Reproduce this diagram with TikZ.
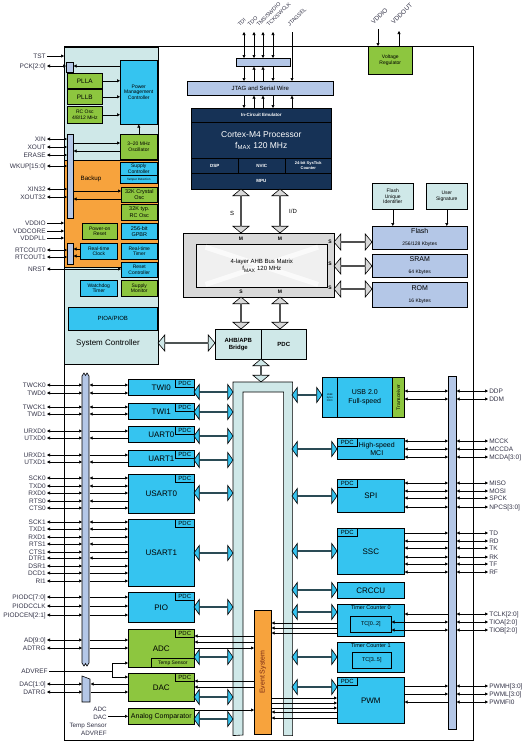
\documentclass[tikz,border=0pt]{standalone}
\usepackage{fontspec}
\setmainfont{Liberation Sans}
\usepackage{tikz}
\usetikzlibrary{arrows.meta,shapes.arrows}

\definecolor{cyanblk}{RGB}{53,196,240}
\definecolor{grnblk}{RGB}{141,198,63}
\definecolor{orgblk}{RGB}{247,163,61}
\definecolor{ltcyan}{RGB}{207,232,232}
\definecolor{ltblue}{RGB}{180,199,231}
\definecolor{navyblk}{RGB}{22,50,86}
\definecolor{mtxgray}{RGB}{217,217,217}
\definecolor{pintxt}{RGB}{50,50,70}
\definecolor{evtxt}{RGB}{120,40,20}

\tikzset{
  blk/.style 2 args={anchor=north west,minimum width=#1pt,minimum height=#2pt,inner sep=0pt,align=center},
  cy/.style={draw,fill=cyanblk}, gr/.style={draw,fill=grnblk},
  lb/.style={draw,fill=ltblue}, lc/.style={draw,fill=ltcyan},
  nv/.style={draw,fill=navyblk,text=white},
  f25/.style={font=\fontsize{2.5}{3}\selectfont},
  f3/.style={font=\fontsize{3}{3.5}\selectfont},
  f4b/.style={font=\bfseries\fontsize{4}{4.8}\selectfont},
  f45b/.style={font=\bfseries\fontsize{4.5}{5}\selectfont},
  f5/.style={font=\fontsize{5}{5.8}\selectfont},
  f5b/.style={font=\bfseries\fontsize{5}{6}\selectfont},
  f55/.style={font=\fontsize{5.5}{6.4}\selectfont},
  f6/.style={font=\fontsize{6}{7}\selectfont},
  f6b/.style={font=\bfseries\fontsize{6}{7.5}\selectfont},
  f7/.style={font=\fontsize{7}{8.5}\selectfont},
  f8/.style={font=\fontsize{8}{9.5}\selectfont},
  f85/.style={font=\fontsize{8.5}{11}\selectfont},
  pin/.style={font=\fontsize{6.5}{7}\selectfont,text=pintxt,inner sep=1pt,text height=4.7pt,text depth=0.3pt},
  toppin/.style={font=\fontsize{5.4}{6}\selectfont,text=pintxt,inner sep=0.5pt,rotate=45,anchor=south west},
  pdcbox/.style={draw,minimum width=19pt,minimum height=8pt,inner sep=0pt,font=\fontsize{6}{7}\selectfont},
  garrow/.style={double arrow,draw,fill=mtxgray,inner sep=0pt,minimum width=16pt,
    double arrow head extend=3.5pt,double arrow tip angle=100},
  carrow/.style={double arrow,draw,fill=cyanblk,inner sep=0pt,minimum width=15pt,
    double arrow head extend=3.5pt,double arrow tip angle=110},
  vert/.style={shape border rotate=90}
}

\begin{document}
\begin{tikzpicture}[x=1pt,y=-1pt,line width=0.6pt,>={Triangle[length=3pt,width=3pt]}]
\useasboundingbox (0,0) rectangle (531,755);

% chip and system controller
\node[draw,blk={409}{694}] (chip) at (64,46) {};
\node[lc,blk={94}{317}] (sysc) at (64,47) {};
\node[draw,fill=orgblk,blk={94}{107}] (bkp) at (64,160) {};
\node[font=\fontsize{6.2}{7}\selectfont] (bkplbl) at (91,179) {Backup};
\node[f8] (sysclbl) at (108,343) {System Controller};

\node[lb,blk={7}{10}] (pckbar) at (66,62) {};
\node[gr,blk={35}{15},font=\fontsize{6.4}{7}\selectfont] (plla) at (67,73) {PLLA};
\node[gr,blk={35}{15},font=\fontsize{6.4}{7}\selectfont] (pllb) at (67,89) {PLLB};
\node[gr,blk={35}{17},f5] (rcosc) at (67,106) {RC Osc\\4/8/12 MHz};
\node[cy,blk={37}{64},f5] (pmc) at (120,60) {Power\\Management\\Controller};
\node[gr,blk={37}{25},f5] (osc) at (120,134) {3--20 MHz\\Oscillator};
\node[lb,blk={6}{84}] (xbar) at (67,134) {};
\node[cy,blk={37}{13},f5] (supc) at (120,162) {Supply\\Controller};
\node[cy,blk={37}{8},f3] (tamper) at (120,175) {Tamper Detection};
\node[gr,blk={36}{15},f55] (xtal32) at (121,187) {32K Crystal\\Osc};
\node[gr,blk={36}{16},f55] (rc32) at (121,204) {32K typ.\\RC Osc};
\node[gr,blk={35}{16},f5] (por) at (82,223) {Power-on\\Reset};
\node[cy,blk={36}{16},f55] (gpbr) at (121,223) {256-bit\\GPBR};
\node[cy,blk={37}{16},f5] (rtc) at (80,243) {Real-time\\Clock};
\node[cy,blk={36}{16},f5] (rtt) at (121,243) {Real-time\\Timer};
\node[lb,blk={6}{21}] (rtcbar) at (67,243) {};
\node[cy,blk={36}{15},f5] (rstc) at (121,262) {Reset\\Controller};
\node[cy,blk={37}{16},f5] (wdt) at (80,280) {Watchdog\\Timer};
\node[gr,blk={36}{16},f5] (supm) at (121,280) {Supply\\Monitor};
\node[cy,blk={89}{23},f6] (pioab) at (68,307) {PIOA/PIOB};

\foreach \y/\nm/\lbl/\tip/\dst in {56/tst/TST/->/sysc,66/pck/PCK[2:0]/<->/pckbar,
  139/xin/XIN/<->/xbar,147/xout/XOUT/<->/xbar,155/erase/ERASE/<->/xbar,166/wkup/WKUP[15:0]/<->/xbar,
  189/xinr/XIN32/<->/xbar,197/xoutr/XOUT32/<->/xbar,223/vddiol/VDDIO/->/sysc,
  231/vddcore/VDDCORE/->/sysc,238/vddpll/VDDPLL/->/sysc,250/rtcoa/RTCOUT0/<->/rtcbar,
  257/rtcob/RTCOUT1/<->/rtcbar,269/nrst/NRST/<->/rstc}{
  \node[pin,anchor=east] (\nm) at (47,\y) {\lbl};
  \draw[\tip] (\nm.east) -- (\dst.west |- \nm.east);
}
\draw[->] (pmc.west |- pck) -- (pckbar.east |- pck);
\draw[->] (plla) -- (pmc.west |- plla);
\draw[->] (pllb) -- (pmc.west |- pllb);
\draw[->] (rcosc) -- (pmc.west |- rcosc);
\draw[->] (osc) -- (pmc);
\draw[->] (xbar.east |- 0,143) -- (osc.west |- 0,143);
\draw[->] (osc.west |- 0,151) -- (xbar.east |- 0,151);
\draw[->] (xbar.east |- 0,191) -- (xtal32.west |- 0,191);
\draw[->] (xtal32.west |- 0,199) -- (xbar.east |- 0,199);
\draw[->] (rtc.west |- 0,249) -- (rtcbar.east |- 0,249);
\draw[->] (rtc.west |- 0,256) -- (rtcbar.east |- 0,256);

% debug port and processor
\node[lb,blk={54}{8}] (jbar) at (236,58) {};
\node[lb,blk={146}{14},f6] (jtag) at (187,81) {JTAG and Serial Wire};
\node[nv,blk={140}{14},f45b] (ice) at (191,108) {In-Circuit Emulator};
\node[nv,blk={140}{36},f85] (core) at (191,122) {Cortex-M4 Processor\\f\textsubscript{MAX} 120 MHz};
\node[nv,blk={47}{15},f45b] (dsp) at (191,158) {DSP};
\node[nv,blk={47}{15},f45b] (nvic) at (238,158) {NVIC};
\node[nv,blk={46}{15},f4b] (systick) at (285,158) {24-bit SysTick\\Counter};
\node[nv,blk={140}{16},f45b] (mpu) at (191,173) {MPU};

\coordinate (tdiT) at (244,32);
\coordinate (tdoT) at (254,32);
\coordinate (tmsT) at (263,32);
\coordinate (tckT) at (273,32);
\coordinate (jselT) at (292,32);
\node[toppin] (tdi) at (240,28) {TDI};
\node[toppin] (tdo) at (250,28) {TDO};
\node[toppin] (tms) at (259,28) {TMS/SWDIO};
\node[toppin] (tck) at (269,28) {TCK/SWCLK};
\node[toppin] (jsel) at (290,28) {JTAGSEL};
\foreach \c in {tdiT,tdoT,tmsT,tckT}
  \draw[<->] (\c) -- (jbar.north -| \c);
\draw[->] (jselT) -- (jtag.north -| jselT);
\draw[->] (jbar.south -| tdiT) -- (jtag.north -| tdiT);
\draw[<-] (jbar.south -| tdoT) -- (jtag.north -| tdoT);
\draw[<-] (jbar.south -| tmsT) -- (jtag.north -| tmsT);
\draw[->] (jbar.south -| tckT) -- (jtag.north -| tckT);
\draw[->] (jtag.south -| tdiT) -- (ice.north -| tdiT);
\draw[<-] (jtag.south -| tdoT) -- (ice.north -| tdoT);
\draw[<-] (jtag.south -| tmsT) -- (ice.north -| tmsT);
\draw[->] (jtag.south -| tckT) -- (ice.north -| tckT);
\draw[<-] (jtag.south -| jselT) -- (ice.north -| jselT);

% voltage regulator
\node[gr,blk={44}{28},f5] (vreg) at (368,46) {Voltage\\Regulator};
\coordinate (vddioT) at (378,29);
\coordinate (vddoutT) at (399,31);
\node[toppin,font=\fontsize{6.3}{7}\selectfont] (vddio) at (374,26) {VDDIO};
\node[toppin,font=\fontsize{6.3}{7}\selectfont] (vddout) at (394,26) {VDDOUT};
\draw[->] (vddioT) -- (vreg.north -| vddioT);
\draw[->] (vreg.north -| vddoutT) -- (vddoutT);

% bus matrix and memories
\node[garrow,vert,minimum height=44pt] (sarr) at (241,211) {};
\node[garrow,vert,minimum height=44pt] (idarr) at (280,211) {};
\node[f6] (slbl) at (232,213) {S};
\node[f6] (idlbl) at (293,211) {I/D};
\node[draw,fill=mtxgray,blk={151}{64}] (mtx) at (183,233) {};
\node[draw,fill=gray!12,blk={131}{43}] (mtxin) at (196,244) {};
\draw[white,line width=5pt,opacity=.7,shorten <=10pt,shorten >=10pt] (mtxin.north west) -- (mtxin.south east);
\draw[white,line width=5pt,opacity=.7,shorten <=10pt,shorten >=10pt] (mtxin.south west) -- (mtxin.north east);
\node[f6,align=center] (mtxlbl) at (mtxin.center) {4-layer AHB Bus Matrix\\f\textsubscript{MAX} 120 MHz};
\node[f5b] (mm1) at (241,239) {M};
\node[f5b] (mm2) at (280,239) {M};
\node[f5b] (ms1) at (241,292) {S};
\node[f5b] (mm3) at (280,292) {M};
\node[f5b] (ms2) at (330,242) {S};
\node[f5b] (ms3) at (330,264) {S};
\node[f5b] (ms4) at (330,288) {S};

\node[lc,blk={41}{26},f5] (fuid) at (372,183) {Flash\\Unique\\Identifier};
\node[lc,blk={41}{26},f5] (usig) at (426,183) {User\\Signature};
\node[lb,blk={95}{23}] (flash) at (372,226) {\fontsize{7}{8}\selectfont Flash\\\fontsize{5}{6}\selectfont 256/128 Kbytes};
\node[lb,blk={95}{23}] (sram) at (372,254) {\fontsize{7}{8}\selectfont SRAM\\\fontsize{5}{6}\selectfont 64 Kbytes};
\node[lb,blk={95}{25}] (rom) at (372,282) {\fontsize{7}{8}\selectfont ROM\\\fontsize{5}{6}\selectfont 16 Kbytes};
\draw[->] (fuid) -- (flash.north -| fuid);
\draw[->] (usig) -- (flash.north -| usig);
\foreach \y/\nm in {242/fla,266/sra,289/roa}
  \node[garrow,minimum height=38pt] (\nm) at (353,\y) {};

\node[garrow,vert,minimum height=32pt] (sdown) at (241,313) {};
\node[garrow,vert,minimum height=32pt] (mdown) at (280,313) {};
\node[lc,blk={46}{30},f6b] (bridge) at (215,329) {AHB/APB\\Bridge};
\node[lc,blk={45}{30},f6b] (pdc) at (261,329) {PDC};
\node[garrow,fill=ltcyan,minimum height=57pt] (brarr) at (186.5,343) {};
\node[garrow,vert,fill=ltcyan,minimum height=23pt] (apbarr) at (261,370.5) {};

% peripheral bridge and event system
\node[blk={59}{353}] (apb) at (233,382) {};
\draw[fill=ltcyan] (apb.south west) -- (apb.north west) -- (apb.north east) -- (apb.south east)
  -- ++(-9,0) |- (243,392) -- ++(0,343) -- cycle;
\node[draw,fill=orgblk,blk={17}{124}] (evsys) at (254,610) {};
\node[rotate=90,f7,text=evtxt] (evlbl) at (evsys.center) {Event System};

% left peripherals
\node[cy,blk={66}{16},f8] (twi0) at (128,379) {TWI0};
\node[cy,blk={66}{16},f8] (twi1) at (128,403) {TWI1};
\node[cy,blk={66}{16},f8] (uart0) at (128,426) {UART0};
\node[cy,blk={66}{16},f8] (uart1) at (128,450) {UART1};
\node[cy,blk={66}{39},f8] (usart0) at (128,474) {USART0};
\node[cy,blk={66}{67},f8] (usart1) at (128,519) {USART1};
\node[cy,blk={66}{30},f8] (pio) at (128,592) {PIO};
\node[gr,blk={66}{38},f8] (adc) at (128,629) {ADC};
\node[gr,blk={43}{9},f5] (tsens) at (151,658) {Temp Sensor};
\node[gr,blk={66}{28},f8] (dac) at (128,673) {DAC};
\node[gr,blk={66}{16},f7] (acomp) at (128,708) {Analog Comparator};
\foreach \b in {twi0,twi1,uart0,uart1,usart0,usart1,pio}
  \node[pdcbox,fill=cyanblk,anchor=north east] (\b-pdc) at (\b.north east) {PDC};
\foreach \b in {adc,dac}
  \node[pdcbox,fill=grnblk,anchor=north east] (\b-pdc) at (\b.north east) {PDC};
\foreach \y/\nm in {392/a1,412/a2,436/a3,460/a4,493/a5,553/a6,607/a7,657/a8,697/a9,719/a10}
  \node[carrow,minimum height=39pt] (\nm) at (213.5,\y) {};

\node[blk={7}{290}] (lbus) at (82,373) {};
\draw[fill=ltblue] (82,663) -- (82,376) -- (84,373) -- (85.5,375.5) -- (87,373) -- (89,376)
  -- (89,663) -- (87,666) -- (85.5,663.5) -- (84,666) -- cycle;
\node[blk={8}{27}] (dbar) at (82,675) {};
\draw[fill=ltblue] (82,702) -- (82,676) -- (90,679) -- (90,702) -- cycle;

\foreach \y/\nm/\lbl/\tip/\dst in {385/twckz/TWCK0/<->/twi0,393/twdz/TWD0/<->/twi0,
  407/twcko/TWCK1/<->/twi1,414/twdo/TWD1/<->/twi1,431/urxdz/URXD0/->/uart0,438/utxdz/UTXD0/<-/uart0,
  455/urxdo/URXD1/->/uart1,462/utxdo/UTXD1/<-/uart1,478/sckz/SCK0/<->/usart0,486/txdz/TXD0/<->/usart0,
  493/rxdz/RXD0/->/usart0,501/rtsz/RTS0/<-/usart0,508/ctsz/CTS0/->/usart0,522/scko/SCK1/<->/usart1,
  529/txdo/TXD1/<->/usart1,537/rxdo/RXD1/->/usart1,544/rtso/RTS1/<-/usart1,552/ctso/CTS1/->/usart1,
  558/dtro/DTR1/<-/usart1,566/dsro/DSR1/->/usart1,573/dcdo/DCD1/->/usart1,581/rio/RI1/->/usart1,
  597/piodc/PIODC[7:0]/->/pio,606/piodcclk/PIODCCLK/->/pio,615/piodcen/PIODCEN[2:1]/->/pio,
  640/ad/AD[9:0]/->/adc,648/adtrg/ADTRG/->/adc}{
  \node[pin,anchor=east] (\nm) at (47,\y) {\lbl};
  \draw[<->] (\nm.east) -- (lbus.west |- \nm.east);
  \draw[\tip] (lbus.east |- \nm.east) -- (\dst.west |- \nm.east);
}
\node[pin,anchor=east] (dacp) at (47,684) {DAC[1:0]};
\node[pin,anchor=east] (datrg) at (47,692) {DATRG};
\draw[<->] (dacp.east) -- (dbar.west |- dacp.east);
\draw[<->] (datrg.east) -- (dbar.west |- datrg.east);
\draw[<-] (dbar.east |- dacp.east) -- (dac.west |- dacp.east);
\draw[->] (dbar.east |- datrg.east) -- (dac.west |- datrg.east);

\node[pin,anchor=east] (advref) at (49,671) {ADVREF};
\coordinate (vsplit) at (112,671);
\coordinate (adcref) at (adc.west |- 0,663);
\coordinate (dacref) at (dac.west |- 0,677);
\draw (advref.east) -- (vsplit);
\draw[->] (vsplit) |- (adcref);
\draw[->] (vsplit) |- (dacref);
\node[font=\fontsize{6.3}{8}\selectfont,text=pintxt,align=right,anchor=east,inner sep=1pt] (acin) at (108,721)
  {ADC\\DAC\\Temp Sensor\\ADVREF};
\draw[->] (acin.east |- acomp.west) -- (acomp.west);

\foreach \y/\tip in {636/<-,642/<-,648/->}
  \draw[\tip] (adc.east |- 0,\y) -- (evsys.west |- 0,\y);
\foreach \y in {681,687}
  \draw[<-] (dac.east |- 0,\y) -- (evsys.west |- 0,\y);
\draw[->] (acomp.east |- 0,710) -- (evsys.west |- 0,710);

% right peripherals
\node[cy,blk={15}{40},f25] (fifo) at (322,377) {2668\\bytes\\FIFO};
\node[cy,blk={55}{40},f7] (usb) at (337,377) {USB 2.0\\Full-speed};
\node[gr,blk={12}{40}] (xcvr) at (392,377) {};
\node[rotate=90,f5] (xcvrlbl) at (xcvr.center) {Transceiver};
\node[cy,blk={67}{21}] (mci) at (337,438) {};
\node[f7,align=center] (mcilbl) at ([xshift=6pt]mci.center) {High-speed\\MCI};
\node[cy,blk={67}{33},f8] (spi) at (337,479) {SPI};
\node[cy,blk={67}{46},f8] (ssc) at (337,528) {SSC};
\node[cy,blk={67}{16},f8] (crccu) at (337,582) {CRCCU};
\node[cy,blk={67}{32},label={[f55,anchor=north,inner sep=1pt]north:Timer Counter 0}] (tc0) at (337,604) {};
\node[cy,blk={41}{16},f55] (tc02) at (350,616) {TC[0..2]};
\node[cy,blk={67}{30},label={[f55,anchor=north,inner sep=1pt]north:Timer Counter 1}] (tc1) at (337,642) {};
\node[cy,blk={39}{16},f55] (tc35) at (352,652) {TC[3..5]};
\node[cy,blk={67}{46},f8] (pwm) at (337,677) {PWM};
\foreach \b in {mci,spi,ssc,pwm}
  \node[pdcbox,fill=cyanblk,anchor=north west,minimum width=20pt] (\b-pdc) at (\b.north west) {PDC};
\node[carrow,minimum height=30pt] (b1) at (307,395) {};
\foreach \y/\nm in {449/b2,496/b3,551/b4,590/b5,612/b6,657/b7,687/b8}
  \node[carrow,minimum height=45pt] (\nm) at (314.5,\y) {};

\foreach \y in {623,628,633}
  \draw[->] (tc0.west |- 0,\y) -- (evsys.east |- 0,\y);
\foreach \y/\tip in {698/<-,703/<-,708/<-,712/->,718/->}
  \draw[\tip] (pwm.west |- 0,\y) -- (evsys.east |- 0,\y);

\node[lb,blk={8}{353}] (rbus) at (448,376) {};
\foreach \y/\nm/\lbl/\tip/\src in {391/ddp/DDP/<->/xcvr,399/ddm/DDM/<->/xcvr,
  441/mcck/MCCK/<->/mci,449/mccda/MCCDA/<->/mci,457/mcda/MCDA[3:0]/<->/mci,
  483/miso/MISO/<->/spi,491/mosi/MOSI/<->/spi,498/spck/SPCK/<->/spi,507/npcs/NPCS[3:0]/<->/spi,
  533/td/TD/->/ssc,541/rd/RD/<-/ssc,548/tk/TK/<->/ssc,557/rk/RK/<->/ssc,564/tf/TF/<->/ssc,572/rf/RF/<->/ssc,
  614/tclk/TCLK[2:0]/<-/tc0,622/tioa/TIOA[2:0]/<->/tc02,630/tiob/TIOB[2:0]/<->/tc02,
  686/pwmh/PWMH[3:0]/->/pwm,694/pwml/PWML[3:0]/->/pwm,702/pwmfi/PWMFI0/<-/pwm}{
  \node[pin,anchor=west] (\nm) at (488,\y) {\lbl};
  \draw[<->] (rbus.east |- \nm.west) -- (\nm.west);
  \draw[\tip] (\src.east |- \nm.west) -- (rbus.west |- \nm.west);
}
\end{tikzpicture}
\end{document}
